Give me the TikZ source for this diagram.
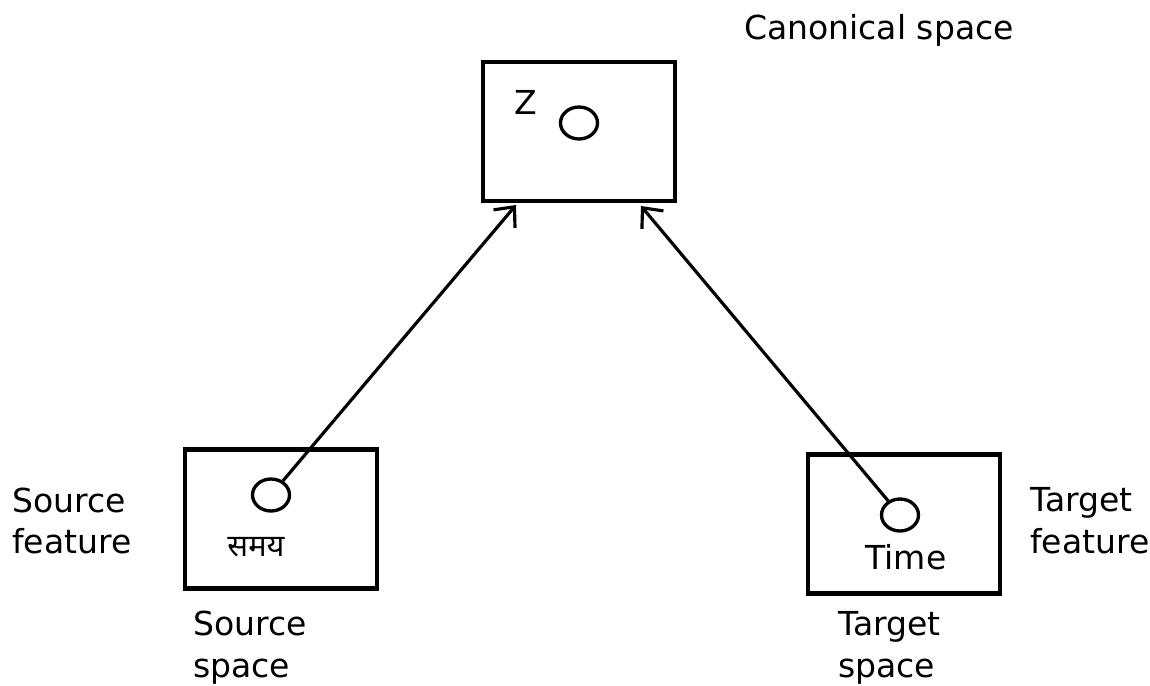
\documentclass[tikz,border=0pt]{standalone}
\usepackage{fontspec}
\setmainfont{DejaVu Sans}
\newfontfamily\devafont[Script=Devanagari]{Noto Sans}
\usetikzlibrary{shapes.geometric, arrows.meta}
\tikzstyle{space} = [rectangle, minimum width=3.84cm, minimum height=2.78cm, draw=black, line width=2.3pt]
\tikzstyle{feature} = [ellipse, minimum width=0.74cm, minimum height=0.64cm, inner sep=0pt, draw=black, line width=1.9pt]
\tikzstyle{label} = [align=left, inner sep=0pt, font=\fontsize{18.8}{23.8}\selectfont]
\tikzstyle{arrow} = [line width=1.8pt, -{Straight Barb[length=9pt, width=16pt, line width=1.8pt]}]

\begin{document}
\begin{tikzpicture}[x=0.02cm, y=-0.02cm]
\useasboundingbox (0,0) rectangle (1150,686);

\node (canonBox) [space] at (579,131.5) {};
\node (sourceBox) [space] at (281,519) {};
\node (targetBox) [space] at (904,524) {};

\node (canonPoint) [feature] at (579,123) {};
\node (sourcePoint) [feature] at (271,495) {};
\node (targetPoint) [feature] at (900,515) {};

\node (zLabel) [label] at (526,102) {Z};
\node (sourceWord) [label, font=\devafont\fontsize{17.5}{20}\selectfont] at (256,547) {समय};
\node (targetWord) [label] at (906,557) {Time};

\node (canonName) [label] at (879,30) {Canonical space};
\node (sourceFeat) [label, anchor=west] at (12,521) {Source\\feature};
\node (targetFeat) [label, anchor=west] at (1030,521) {Target\\feature};
\node (sourceName) [label, anchor=west] at (193,648) {Source\\space};
\node (targetName) [label, anchor=west] at (838,648) {Target\\space};

\coordinate (sourceIn) at (516,205);
\coordinate (targetIn) at (641,206);

\draw [arrow] (sourcePoint) -- (sourceIn);
\draw [arrow] (targetPoint) -- (targetIn);

\end{tikzpicture}
\end{document}
